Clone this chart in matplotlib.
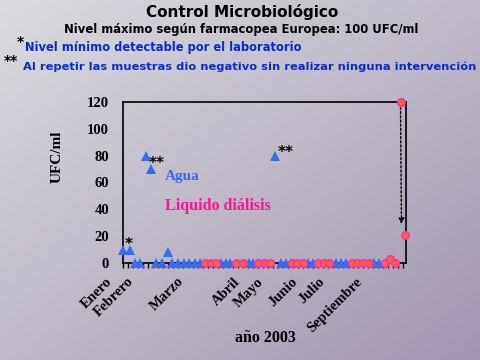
import matplotlib
matplotlib.use('Agg')
import matplotlib.pyplot as plt
import numpy as np

# ---- data (x = sample position along 2003, y = UFC/ml) ----
agua_x = [0.1, 1.3, 2.3, 3.4, 4.5, 5.5, 6.6, 7.7, 8.9, 9.8, 11.0, 12.1, 13.1, 14.3, 15.3,
          19.5, 20.5, 21.4, 25.1, 25.9, 30.4, 31.5, 32.5, 33.5, 36.9, 37.9,
          42.5, 43.5, 44.5, 50.1, 51.1]
agua_y = [10, 10, 0, 0, 80, 70, 0, 0, 8, 0, 0, 0, 0, 0, 0,
          0, 0, 0, 0, 0, 80, 0, 0, 0, 0, 0,
          0, 0, 0, 0, 0]
dial_x = [16.3, 17.6, 18.5, 22.6, 23.9, 27.0, 28.1, 29.3, 33.8, 34.8, 35.9,
          39.0, 40.2, 41.2, 45.7, 46.8, 47.9, 49.1, 52.3, 53.4, 54.4, 55.5, 56.4]
dial_y = [0, 0, 0, 0, 0, 0, 0, 0, 0, 0, 0,
          0, 0, 0, 0, 0, 0, 0, 0, 3, 0, 120, 21]
month_labels = ['Enero', 'Febrero', 'Marzo', 'Abril', 'Mayo', 'Junio', 'Julio', 'Septiembre']
month_pos = [-1.6, 2.7, 12.7, 24.0, 28.7, 35.4, 40.8, 48.4]
yticks = [0, 20, 40, 60, 80, 100, 120]

SANS = 'DejaVu Sans'
SERIF = 'Liberation Serif'
BLUE_TXT = '#0a2ad6'
TRI = '#3a6af0'
PINK = '#ff1493'

fig = plt.figure(figsize=(4.8, 3.6), dpi=100)

# background gradient
bg = fig.add_axes([0, 0, 1, 1], zorder=-10)
H, W = 360, 480
yy, xx = np.mgrid[0:H, 0:W]
t = (xx / W + yy / H) / 2
c0 = np.array([219, 219, 223]) / 255
c1 = np.array([162, 150, 176]) / 255
img = c0[None, None, :] * (1 - t[..., None]) + c1[None, None, :] * t[..., None]
bg.imshow(img, aspect='auto', extent=[0, 1, 0, 1], origin='upper')
bg.axis('off')

ax = fig.add_axes([123 / 480, 1 - 263 / 360, 283 / 480, 161 / 360])
ax.patch.set_alpha(0)
ax.set_xlim(0, 56.6)
ax.set_ylim(0, 120)
for s in ax.spines.values():
    s.set_color('black')
    s.set_linewidth(1.2)

ax.plot(agua_x, agua_y, linestyle='none', marker='^', ms=7, color=TRI,
        markeredgewidth=0, clip_on=False, zorder=3)
ax.plot(dial_x, dial_y, linestyle='none', marker='o', ms=5.5, markerfacecolor='#ff6a1a',
        markeredgecolor='#ff22dd', markeredgewidth=1.0, clip_on=False, zorder=4)

ax.set_yticks(yticks)
ax.set_yticklabels([str(v) for v in yticks], fontfamily=SERIF, fontweight='bold', fontsize=10.5)
ax.tick_params(axis='y', length=0, pad=10)
ax.set_xticks(np.arange(0, 57, 1))
ax.set_xticklabels([])
ax.tick_params(axis='x', length=3.5, width=1, direction='out')

xtr = ax.get_xaxis_transform()
for lab, pos in zip(month_labels, month_pos):
    ax.text(pos, -0.075, lab, transform=xtr, rotation=45, ha='right', va='top',
            fontfamily=SERIF, fontweight='bold', fontsize=10.5)

ax.set_ylabel('UFC/ml', fontfamily=SERIF, fontweight='bold', fontsize=11)
ax.yaxis.set_label_coords((64 - 123) / 283, (263 - 157) / 161)
fig.text(265 / 480, 1 - 342 / 360, 'año 2003', ha='center', va='baseline',
         fontfamily=SERIF, fontweight='bold', fontsize=11.5)

# annotations
ax.text(1.2, 14, '*', ha='center', va='center', fontsize=11, fontweight='bold')
ax.text(6.8, 74, '**', ha='center', va='center', fontsize=11, fontweight='bold')
ax.text(32.5, 82, '**', ha='center', va='center', fontsize=11, fontweight='bold')
ax.text(8.4, 64.3, 'Agua', ha='left', va='center', color=TRI,
        fontfamily=SERIF, fontweight='bold', fontsize=11)
ax.text(8.4, 42.7, 'Liquido diálisis', ha='left', va='center', color=PINK,
        fontfamily=SERIF, fontweight='bold', fontsize=11.5)
ax.annotate('', xy=(55.7, 27), xytext=(55.5, 118),
            arrowprops=dict(arrowstyle='-|>', linestyle=(0, (1.5, 1.5)), color='black',
                            lw=1, mutation_scale=8), annotation_clip=False)

# titles
fig.text(242 / 480, 1 - 16.5 / 360, 'Control Microbiológico', ha='center', va='baseline',
         fontfamily=SANS, fontweight='bold', fontsize=11)
fig.text(241 / 480, 1 - 33 / 360, 'Nivel máximo según farmacopea Europea: 100 UFC/ml',
         ha='center', va='baseline', fontfamily=SANS, fontweight='bold', fontsize=8.4)
fig.text(17 / 480, 1 - 46 / 360, '*', ha='left', va='baseline', fontfamily=SANS,
         fontweight='bold', fontsize=10, color='black')
fig.text(25 / 480, 1 - 50.7 / 360, 'Nivel mínimo detectable por el laboratorio',
         ha='left', va='baseline', fontfamily=SANS, fontweight='bold', fontsize=8.3, color=BLUE_TXT)
fig.text(4 / 480, 1 - 65 / 360, '**', ha='left', va='baseline', fontfamily=SANS,
         fontweight='bold', fontsize=10, color='black')
fig.text(23 / 480, 1 - 70 / 360, 'Al repetir las muestras dio negativo sin realizar ninguna intervención',
         ha='left', va='baseline', fontfamily=SANS, fontweight='bold', fontsize=8.25, color=BLUE_TXT)

fig.savefig('out.png', dpi=100)
